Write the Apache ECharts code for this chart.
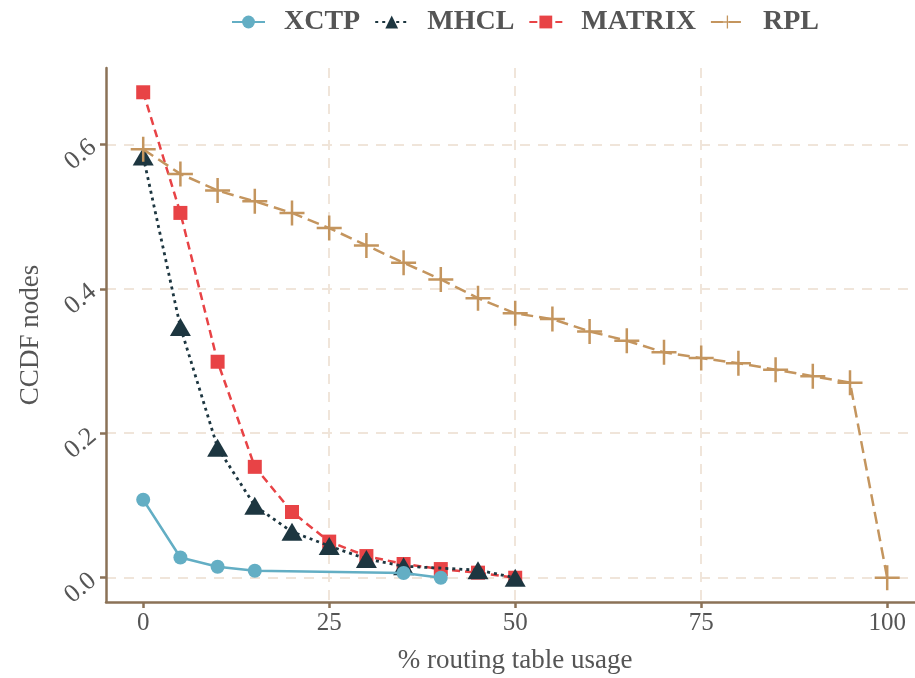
<!DOCTYPE html>
<html>
<head>
<meta charset="utf-8">
<script src="https://cdn.jsdelivr.net/npm/echarts@6/dist/echarts.min.js"></script>
<style>html,body{margin:0;padding:0;background:#fff;}#c{width:915px;height:678px;}</style>
</head>
<body>
<div id="c"></div>
<script>
const xctpX = [0, 5, 10, 15, 35, 40];
const xctpY = [0.108, 0.028, 0.0152, 0.0097, 0.0066, 0.0];
const mhclX = [0, 5, 10, 15, 20, 25, 30, 35, 45, 50];
const mhclY = [0.583, 0.347, 0.180, 0.0995, 0.0636, 0.044, 0.026, 0.016, 0.0105, 0.0];
const matrixX = [0, 5, 10, 15, 20, 25, 30, 35, 40, 45, 50];
const matrixY = [0.672, 0.505, 0.299, 0.1535, 0.091, 0.050, 0.030, 0.019, 0.012, 0.007, 0.0];
const rplX = [0, 5, 10, 15, 20, 25, 30, 35, 40, 45, 50, 55, 60, 65, 70, 75, 80, 85, 90, 95, 100];
const rplY = [0.593, 0.559, 0.536, 0.521, 0.505, 0.484, 0.460, 0.436, 0.413, 0.387, 0.366, 0.358, 0.341, 0.328, 0.312, 0.304, 0.297, 0.288, 0.279, 0.270, 0.0];
const xTicks = [0, 25, 50, 75, 100];
const yTicks = [0.0, 0.2, 0.4, 0.6];

const FONT = '"Liberation Serif", "DejaVu Serif", serif';
const zip = (xs, ys) => xs.map((x, i) => [x, ys[i]]);
const PLUS = 'path://M-1.2,-12 L1.2,-12 L1.2,-1.2 L12,-1.2 L12,1.2 L1.2,1.2 L1.2,12 L-1.2,12 L-1.2,1.2 L-12,1.2 L-12,-1.2 L-1.2,-1.2 Z';

const chart = echarts.init(document.getElementById('c'), null, {renderer: 'canvas'});
const axisColor = '#8b7257';
const gridColor = '#f0e5da';
chart.setOption({
  animation: false,
  backgroundColor: '#fff',
  grid: {left: 106, right: -9.4, top: 68, bottom: 76, containLabel: false, outerBoundsMode: 'none'},
  legend: {
    data: ['XCTP', 'MHCL', 'MATRIX', 'RPL'],
    top: 3, left: 226,
    itemWidth: 33, itemHeight: 16, itemGap: 14,
    textStyle: {fontFamily: FONT, fontWeight: 'bold', fontSize: 28, color: '#555555', padding: [0, 0, 0, 14]}
  },
  xAxis: {
    type: 'value', min: -5, max: 105, interval: 5,
    name: '% routing table usage', nameLocation: 'middle', nameGap: 45,
    nameTextStyle: {fontFamily: FONT, fontSize: 27, color: '#555555'},
    axisLine: {show: true, onZero: false, lineStyle: {color: axisColor, width: 2.5}},
    axisTick: {show: true, length: 6, lineStyle: {color: axisColor, width: 2.5},
      customValues: xTicks},
    axisLabel: {fontFamily: FONT, fontSize: 25, color: '#555555', margin: 9,
      customValues: xTicks, formatter: v => String(v)},
    splitLine: {show: true, lineStyle: {color: gridColor, width: 2, type: [10, 8]},
      showMinLine: false, showMaxLine: false}
  },
  yAxis: {
    type: 'value', min: -0.0336, max: 0.7056,
    name: 'CCDF nodes', nameLocation: 'middle', nameGap: 62, nameRotate: 90,
    nameTextStyle: {fontFamily: FONT, fontSize: 27, color: '#555555'},
    axisLine: {show: true, onZero: false, lineStyle: {color: axisColor, width: 2.5}},
    axisTick: {show: true, length: 6, lineStyle: {color: axisColor, width: 2.5}, customValues: yTicks},
    axisLabel: {fontFamily: FONT, fontSize: 26, color: '#555555', margin: 13, rotate: 40,
      customValues: yTicks, formatter: v => v.toFixed(1)},
    splitLine: {show: true, lineStyle: {color: gridColor, width: 2, type: [10, 8]}}
  },
  series: [
    {name: 'MATRIX', type: 'line', data: zip(matrixX, matrixY), z: 2,
      symbol: 'rect', symbolSize: 14,
      lineStyle: {color: '#e84346', width: 2.5, type: [8, 5]},
      itemStyle: {color: '#e84346'}},
    {name: 'MHCL', type: 'line', data: zip(mhclX, mhclY), z: 3,
      symbol: 'triangle', symbolSize: [21, 18],
      lineStyle: {color: '#1d3640', width: 2.8, type: [3, 4]},
      itemStyle: {color: '#1d3640'}},
    {name: 'XCTP', type: 'line', data: zip(xctpX, xctpY), z: 4,
      symbol: 'circle', symbolSize: 14,
      lineStyle: {color: '#63aec4', width: 2.5},
      itemStyle: {color: '#63aec4'}},
    {name: 'RPL', type: 'line', data: zip(rplX, rplY), z: 5,
      symbol: PLUS, symbolSize: 25,
      lineStyle: {color: '#c4955e', width: 2.5, type: [12, 6]},
      itemStyle: {color: '#c4955e'}}
  ]
});
</script>
</body>
</html>
